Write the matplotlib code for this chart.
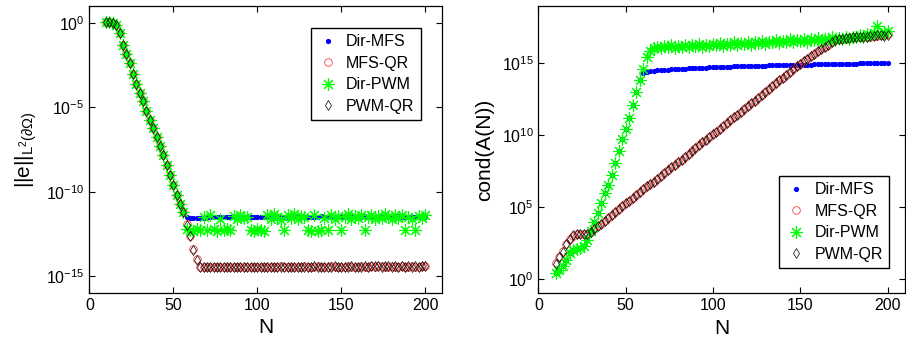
import numpy as np
import matplotlib.pyplot as plt

plt.rcParams['font.family'] = ['Liberation Sans', 'DejaVu Sans']
plt.rcParams['mathtext.default'] = 'regular'

# number of basis functions / collocation points
N = np.arange(10, 201, 2)

# ---- left panel: log10 of ||e||_{L2(boundary)} ----
descent = [0.08, 0.05, 0.0, -0.15, -0.6, -1.3, -1.85, -2.4, -3.0, -3.6, -4.15, -4.65,
           -5.2, -5.75, -6.25, -6.75, -7.3, -7.85, -8.4, -9.0, -9.6, -10.2, -10.7, -11.2]

err_dir_mfs = descent + [
    -11.5, -11.58, -11.57, -11.56, -11.55, -11.54, -11.52, -11.5, -11.5, -11.49, -11.5, -11.48,
    -11.49, -11.5, -11.48, -11.47, -11.49, -11.48, -11.5, -11.47, -11.48, -11.49, -11.47, -11.48,
    -11.47, -11.49, -11.48, -11.46, -11.48, -11.47, -11.49, -11.48, -11.47, -11.48, -11.49, -11.47,
    -11.48, -11.47, -11.49, -11.48, -11.46, -11.48, -11.47, -11.49, -11.48, -11.47, -11.48, -11.49,
    -11.47, -11.48, -11.49, -11.47, -11.48, -11.46, -11.48, -11.47, -11.49, -11.48, -11.47, -11.48,
    -11.49, -11.47, -11.48, -11.46, -11.48, -11.47, -11.49, -11.48, -11.47, -11.48, -11.46, -11.47]

err_dir_pwm = descent + [
    -12.2, -12.25, -12.3, -12.2, -12.25, -11.5, -12.25, -11.4, -12.2, -12.3, -11.6, -12.25,
    -12.2, -12.25, -11.45, -11.6, -11.35, -11.55, -11.5, -12.25, -12.3, -12.2, -12.25, -12.3,
    -11.4, -11.6, -11.3, -11.5, -11.65, -12.25, -11.4, -11.55, -11.3, -11.6, -11.45, -11.5,
    -12.25, -12.3, -11.4, -12.3, -12.25, -11.55, -12.25, -11.35, -11.6, -11.45, -12.25, -11.5,
    -11.3, -11.6, -11.45, -11.55, -11.4, -12.25, -11.5, -11.35, -11.6, -11.45, -11.55, -11.3,
    -11.5, -11.6, -11.4, -11.55, -11.35, -12.25, -11.5, -11.6, -12.25, -11.45, -11.55, -11.4]

err_mfs_qr = descent + [
    -11.9, -12.6, -13.4, -14.0, -14.45, -14.47, -14.45, -14.48, -14.46, -14.44, -14.47, -14.45,
    -14.46, -14.44, -14.47, -14.45, -14.43, -14.46, -14.45, -14.47, -14.44, -14.46, -14.45, -14.43,
    -14.45, -14.47, -14.44, -14.46, -14.42, -14.45, -14.44, -14.46, -14.43, -14.45, -14.44, -14.42,
    -14.44, -14.43, -14.45, -14.41, -14.44, -14.43, -14.45, -14.42, -14.44, -14.43, -14.45, -14.44,
    -14.42, -14.44, -14.43, -14.45, -14.42, -14.44, -14.43, -14.41, -14.43, -14.38, -14.42, -14.44,
    -14.43, -14.42, -14.44, -14.43, -14.41, -14.44, -14.43, -14.42, -14.44, -14.43, -14.42, -14.41]

err_pwm_qr = descent + [
    -11.95, -12.65, -13.45, -14.05, -14.46, -14.45, -14.47, -14.46, -14.44, -14.46, -14.45, -14.47,
    -14.45, -14.46, -14.44, -14.46, -14.45, -14.44, -14.47, -14.45, -14.46, -14.44, -14.46, -14.45,
    -14.44, -14.46, -14.45, -14.44, -14.43, -14.46, -14.45, -14.44, -14.45, -14.43, -14.45, -14.44,
    -14.43, -14.44, -14.42, -14.44, -14.43, -14.45, -14.43, -14.44, -14.42, -14.44, -14.43, -14.45,
    -14.43, -14.42, -14.44, -14.43, -14.43, -14.42, -14.44, -14.42, -14.4, -14.41, -14.43, -14.42,
    -14.42, -14.43, -14.42, -14.44, -14.42, -14.43, -14.42, -14.43, -14.42, -14.44, -14.41, -14.42]

# ---- right panel: log10 of cond(A(N)) ----
rise_pwm = [0.4, 0.6, 0.9, 1.3, 1.8, 2.0, 2.1, 2.15, 2.3, 2.7, 3.3, 3.95,
            4.6, 5.3, 5.95, 6.55, 7.25, 8.05, 8.9, 9.7, 10.4, 11.2, 12.1, 13.0]

cond_dir_mfs = rise_pwm + [
    13.8, 14.35, 14.42, 14.45, 14.48, 14.5, 14.52, 14.54, 14.55, 14.57, 14.58, 14.6,
    14.61, 14.63, 14.64, 14.66, 14.67, 14.68, 14.7, 14.7, 14.72, 14.73, 14.74, 14.75,
    14.76, 14.77, 14.77, 14.78, 14.79, 14.8, 14.8, 14.81, 14.82, 14.82, 14.83, 14.84,
    14.84, 14.85, 14.86, 14.86, 14.87, 14.87, 14.88, 14.88, 14.89, 14.89, 14.9, 14.9,
    14.91, 14.91, 14.92, 14.92, 14.93, 14.93, 14.94, 14.94, 14.95, 14.95, 14.96, 14.96,
    14.96, 14.97, 14.97, 14.98, 14.98, 14.98, 14.99, 14.99, 15.0, 15.0, 15.0, 15.01]

cond_dir_pwm = rise_pwm + [
    13.8, 14.6, 15.4, 15.85, 16.05, 16.15, 16.05, 16.2, 16.1, 16.25, 16.05, 16.2,
    16.15, 16.3, 16.1, 16.25, 16.2, 16.35, 16.15, 16.3, 16.2, 16.35, 16.25, 16.4,
    16.2, 16.35, 16.3, 16.45, 16.25, 16.4, 16.35, 16.5, 16.3, 16.45, 16.4, 16.55,
    16.35, 16.5, 16.45, 16.6, 16.4, 16.55, 16.5, 16.65, 16.45, 16.6, 16.55, 16.7,
    16.5, 16.65, 16.6, 16.75, 16.55, 16.7, 16.65, 16.8, 16.6, 16.75, 16.7, 16.85,
    16.7, 16.85, 16.8, 16.95, 16.85, 17.05, 16.95, 17.1, 17.6, 17.05, 17.15, 17.25]

cond_mfs_qr = [
    1.1, 1.5, 1.95, 2.4, 2.75, 3.0, 3.1, 3.1, 3.1, 3.1, 3.25, 3.45,
    3.65, 3.85, 4.05, 4.25, 4.45, 4.65, 4.85, 5.05, 5.25, 5.45, 5.65, 5.85,
    6.05, 6.25, 6.45, 6.6, 6.75, 6.95, 7.15, 7.35, 7.55, 7.75, 7.9, 8.1,
    8.3, 8.5, 8.7, 8.9, 9.1, 9.3, 9.5, 9.65, 9.85, 10.05, 10.25, 10.45,
    10.65, 10.85, 11.05, 11.25, 11.4, 11.6, 11.8, 12.0, 12.2, 12.4, 12.6, 12.8,
    13.0, 13.2, 13.4, 13.6, 13.8, 14.0, 14.2, 14.4, 14.6, 14.8, 14.95, 15.15,
    15.3, 15.5, 15.65, 15.85, 16.0, 16.15, 16.3, 16.45, 16.6, 16.65, 16.7, 16.7,
    16.75, 16.75, 16.8, 16.8, 16.85, 16.8, 16.85, 16.9, 16.9, 16.95, 16.95, 17.0]

cond_pwm_qr = [
    1.05, 1.5, 1.9, 2.4, 2.75, 3.05, 3.1, 3.1, 3.1, 3.1, 3.25, 3.45,
    3.65, 3.85, 4.05, 4.25, 4.45, 4.65, 4.85, 5.05, 5.25, 5.45, 5.65, 5.85,
    6.05, 6.25, 6.45, 6.6, 6.75, 6.95, 7.15, 7.35, 7.55, 7.75, 7.9, 8.1,
    8.3, 8.5, 8.7, 8.9, 9.1, 9.3, 9.5, 9.65, 9.85, 10.05, 10.25, 10.45,
    10.65, 10.85, 11.05, 11.25, 11.4, 11.6, 11.8, 12.0, 12.2, 12.4, 12.6, 12.8,
    13.0, 13.2, 13.4, 13.6, 13.8, 14.0, 14.2, 14.4, 14.6, 14.8, 14.95, 15.15,
    15.3, 15.5, 15.65, 15.85, 16.0, 16.15, 16.3, 16.45, 16.6, 16.7, 16.7, 16.75,
    16.75, 16.8, 16.8, 16.85, 16.85, 16.85, 16.9, 16.9, 16.95, 16.95, 16.9, 16.95]

labels = ['Dir-MFS', 'MFS-QR', 'Dir-PWM', 'PWM-QR']
styles = [dict(marker='.', ms=5.5, color='b'),
          dict(marker='o', ms=5.5, mfc='none', mec=(1, 0.25, 0.25), mew=0.6),
          dict(marker=(8, 2, 0), ms=9, color=(0, 1, 0), mew=0.8),
          dict(marker='d', ms=5, mfc='none', mec='k', mew=0.5)]

fig = plt.figure(figsize=(9.06, 3.45), dpi=100)
ax1 = fig.add_axes([0.0986, 0.1507, 0.3893, 0.8319])
ax2 = fig.add_axes([0.5942, 0.1499, 0.4047, 0.8336])

left_series = [err_dir_mfs, err_mfs_qr, err_dir_pwm, err_pwm_qr]
right_series = [cond_dir_mfs, cond_mfs_qr, cond_dir_pwm, cond_pwm_qr]

for ax, series in [(ax1, left_series), (ax2, right_series)]:
    for vals, lab, st in zip(series, labels, styles):
        ax.semilogy(N, 10.0 ** np.array(vals), ls='none', label=lab, **st)
    ax.set_xlim(0, 210)
    ax.set_xticks([0, 50, 100, 150, 200])
    ax.yaxis.set_minor_locator(plt.NullLocator())
    ax.tick_params(direction='in', top=True, right=True, length=4, width=0.8,
                   labelsize=11.5)
    for sp in ax.spines.values():
        sp.set_linewidth(0.9)
    ax.set_xlabel('N', fontsize=15, labelpad=4)
    ax.legend(numpoints=1, fontsize=11.5, fancybox=False, framealpha=1,
              edgecolor='k', handlelength=1.3, handletextpad=0.5,
              labelspacing=0.4, borderpad=0.4, borderaxespad=0)

ax1.set_ylim(1e-16, 1e1)
ax1.set_yticks([1e0, 1e-5, 1e-10, 1e-15])
ax1.set_ylabel(r'||e||$_{L^{2}(\partial\Omega)}$', fontsize=15, labelpad=5)
ax1.legend_.set_loc('upper right')
ax1.legend_.set_bbox_to_anchor((0.94, 0.923), transform=ax1.transAxes)

ax2.set_ylim(1e-1, 1e19)
ax2.set_yticks([1e0, 1e5, 1e10, 1e15])
ax2.set_ylabel('cond(A(N))', fontsize=15, labelpad=5)
ax2.legend_.set_loc('lower right')
ax2.legend_.set_bbox_to_anchor((0.957, 0.088), transform=ax2.transAxes)

fig.savefig('out.png', dpi=100)
